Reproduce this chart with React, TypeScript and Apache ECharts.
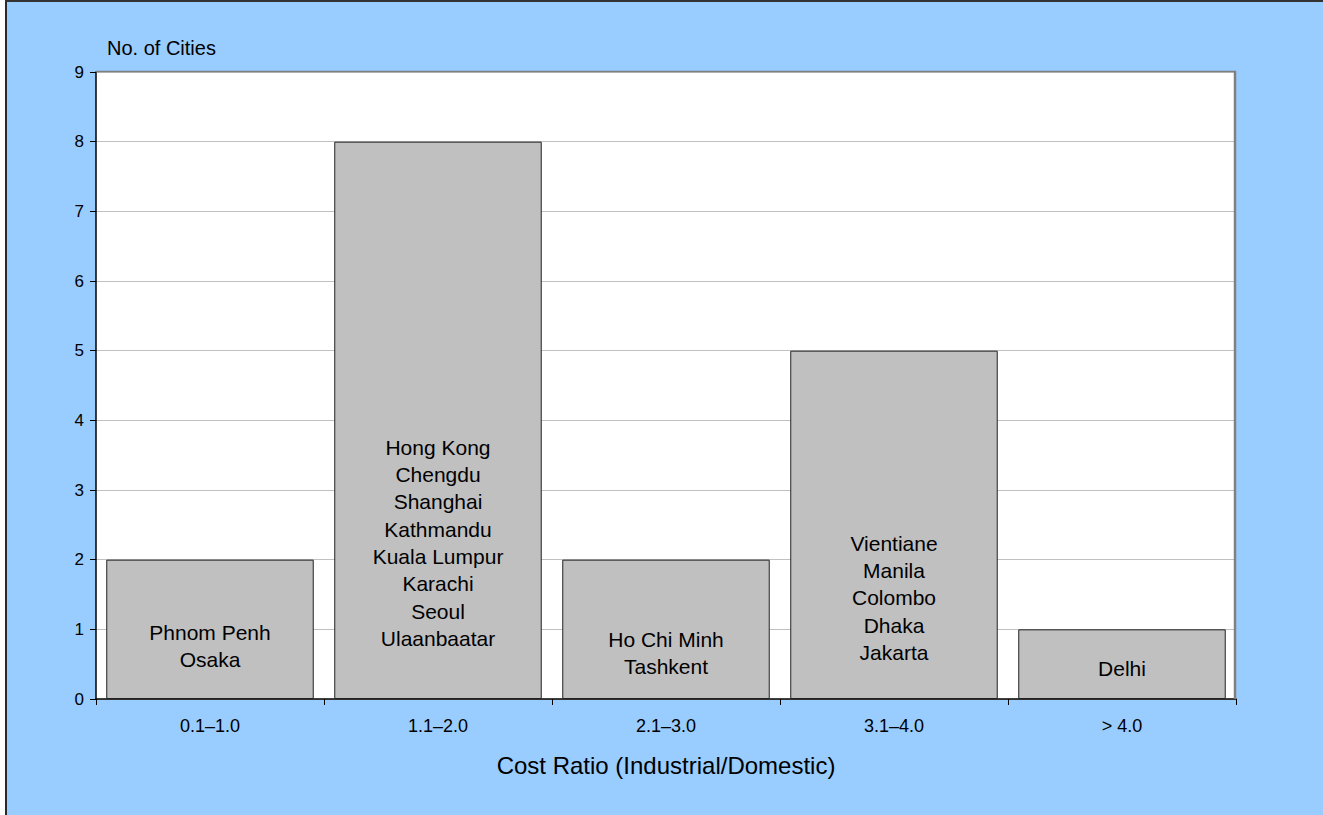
import React, { useEffect, useRef } from "react";
import * as echarts from "echarts";

const categories = ["0.1–1.0", "1.1–2.0", "2.1–3.0", "3.1–4.0", "> 4.0"];
const cityCounts = [2, 8, 2, 5, 1];
const cityNames = [
  ["Phnom Penh", "Osaka"],
  ["Hong Kong", "Chengdu", "Shanghai", "Kathmandu", "Kuala Lumpur", "Karachi", "Seoul", "Ulaanbaatar"],
  ["Ho Chi Minh", "Tashkent"],
  ["Vientiane", "Manila", "Colombo", "Dhaka", "Jakarta"],
  ["Delhi"],
];
const yTicks = [0, 1, 2, 3, 4, 5, 6, 7, 8, 9];
const yAxisName = "No. of Cities";
const xAxisName = "Cost Ratio (Industrial/Domestic)";

// label distances from bar bottom (style, not data)
const labelDistances = [26, 47, 19, 33, 17];

const FONT = "'Liberation Sans', Arial, sans-serif";

export default function App() {
  const ref = useRef<HTMLDivElement>(null);
  useEffect(() => {
    document.body.style.margin = "0";
    const chart = echarts.init(ref.current!, null, { renderer: "svg" });
    const gridLeft = 96, gridTop = 72, gridRight = 1236, gridBottom = 699;
    chart.setOption({
      animation: false,
      backgroundColor: "#99CCFF",
      textStyle: { fontFamily: FONT },
      grid: {
        left: gridLeft,
        top: gridTop,
        width: gridRight - gridLeft,
        height: gridBottom - gridTop,
        show: true,
        backgroundColor: "#FFFFFF",
        borderColor: "#808080",
        borderWidth: 0,
      },
      graphic: [
        { type: "rect", shape: { x: 0, y: 0, width: 5, height: 815 }, style: { fill: "#FFFFFF" }, z: 100 },
        { type: "line", shape: { x1: 6, y1: 0, x2: 6, y2: 815 }, style: { stroke: "#2a2a2a", lineWidth: 2 }, z: 100 },
        { type: "line", shape: { x1: 5, y1: 1, x2: 1323, y2: 1 }, style: { stroke: "#333333", lineWidth: 2 }, z: 100 },
        { type: "line", shape: { x1: gridLeft, y1: gridTop - 0.5, x2: gridRight, y2: gridTop - 0.5 }, style: { stroke: "#808080", lineWidth: 1.5 }, z: 50 },
        { type: "line", shape: { x1: gridRight - 1, y1: gridTop - 1, x2: gridRight - 1, y2: gridBottom }, style: { stroke: "#808080", lineWidth: 2.5 }, z: 50 },
      ],
      xAxis: {
        type: "category",
        data: categories,
        name: xAxisName,
        nameLocation: "middle",
        nameGap: 54,
        nameTextStyle: { fontSize: 24, color: "#000", fontFamily: FONT },
        axisLine: { show: true, lineStyle: { color: "#000", width: 1.5 } },
        axisTick: { show: true, length: 6, lineStyle: { color: "#000" } },
        axisLabel: { fontSize: 18, color: "#000", margin: 18, fontFamily: FONT },
        splitLine: { show: false },
      },
      yAxis: {
        type: "value",
        min: 0,
        max: 9,
        interval: 1,
        name: yAxisName,
        nameLocation: "end",
        nameGap: 14,
        nameTextStyle: { fontSize: 20, color: "#000", fontFamily: FONT, align: "left", padding: [0, 0, 0, 11] },
        axisLine: { show: true, lineStyle: { color: "#000", width: 1.5 } },
        axisTick: { show: true, length: 6, lineStyle: { color: "#000" } },
        axisLabel: {
          fontSize: 17,
          color: "#000",
          margin: 12,
          fontFamily: FONT,
          formatter: (v: number) => (yTicks.includes(v) ? String(v) : ""),
        },
        splitLine: { show: true, lineStyle: { color: "#C0C0C0", width: 1 } },
      },
      series: [
        {
          type: "bar",
          barCategoryGap: "9%",
          data: cityCounts.map((v, i) => ({
            value: v,
            label: { distance: labelDistances[i] },
          })),
          itemStyle: { color: "#C0C0C0", borderColor: "#222222", borderWidth: 1 },
          label: {
            show: true,
            position: "insideBottom",
            fontSize: 21,
            lineHeight: 27.3,
            color: "#000",
            fontFamily: FONT,
            align: "center",
            formatter: (p: any) => cityNames[p.dataIndex].join("\n"),
          },
        },
      ],
    });
    return () => chart.dispose();
  }, []);
  return (
    <div
      ref={ref}
      style={{ position: "absolute", left: 0, top: 0, width: 1323, height: 815 }}
    />
  );
}
